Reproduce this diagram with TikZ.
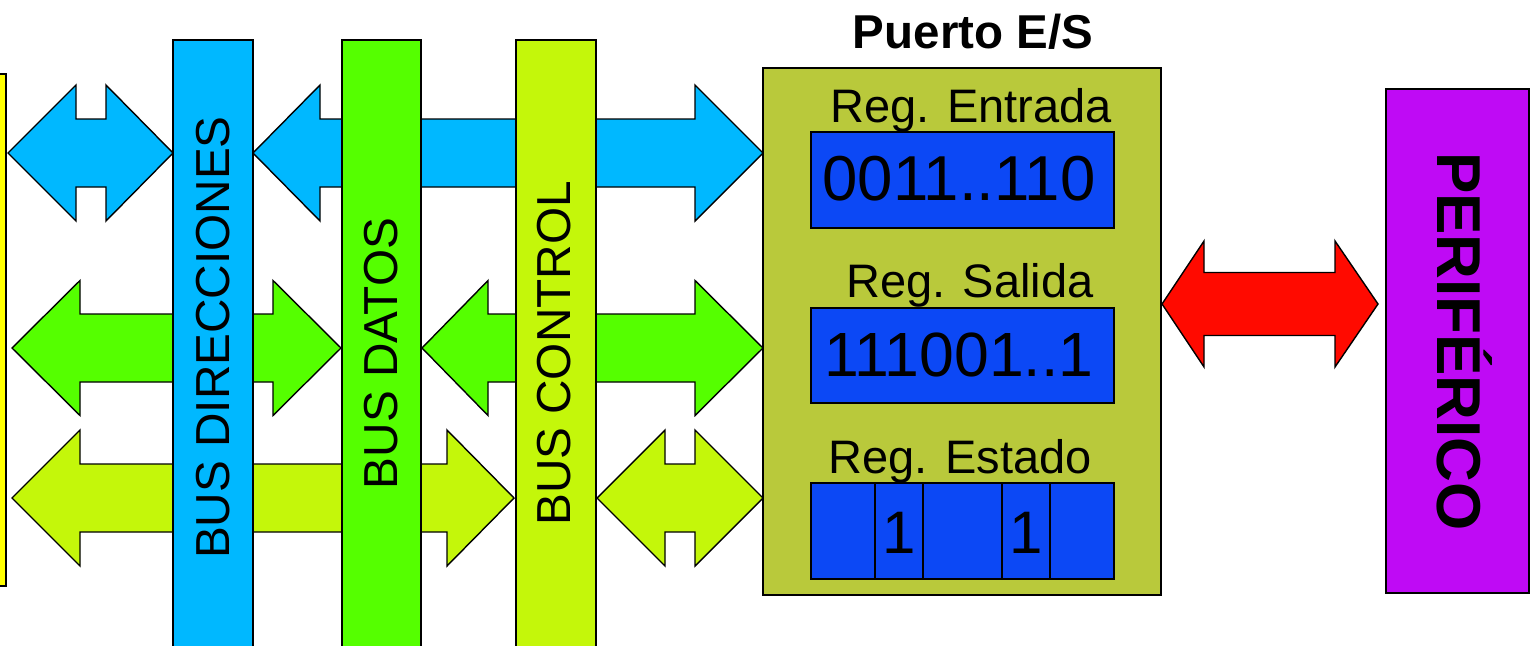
\documentclass[tikz,border=0pt]{standalone}
\usepackage{fontspec}
\setmainfont{Liberation Sans}
\definecolor{cpuyellow}{HTML}{FFFF00}
\definecolor{busblue}{HTML}{00B8FF}
\definecolor{busgreen}{HTML}{55FF00}
\definecolor{buslime}{HTML}{C4F70A}
\definecolor{portolive}{HTML}{B9C93B}
\definecolor{regblue}{HTML}{0C48F5}
\definecolor{arrred}{HTML}{FF0A00}
\definecolor{perpurple}{HTML}{BF0AF5}
% #1 colour, #2 left tip x, #3 right tip x, #4 centre y, #5 head half width, #6 shaft half width, #7 left head length, #8 right head length
\newcommand\dblarrow[8]{%
  \draw[fill=#1, outline]
    (#2,#4) -- (#2+#7,#4-#5) -- (#2+#7,#4-#6) -- (#3-#8,#4-#6) -- (#3-#8,#4-#5)
    -- (#3,#4) -- (#3-#8,#4+#5) -- (#3-#8,#4+#6) -- (#2+#7,#4+#6) -- (#2+#7,#4+#5) -- cycle;}
\begin{document}
\begin{tikzpicture}[x=1pt,y=-1pt,
  outline/.style={draw=black, line width=1.4pt, line join=miter},
  bustext/.style={rotate=90, anchor=base, inner sep=0pt, font=\fontsize{47.7}{52}\selectfont},
  regtitle/.style={anchor=base, inner sep=0pt, font=\fontsize{47}{52}\selectfont},
  regvalue/.style={anchor=base, inner sep=0pt, font=\fontsize{62.5}{66}\selectfont},
  bitvalue/.style={anchor=base, inner sep=0pt, font=\fontsize{60}{64}\selectfont}]
\useasboundingbox (0,0) rectangle (1530,645);

% CPU block (left, partly outside)
\draw[fill=cpuyellow, outline] (-20,74) rectangle (6,586);

% block arrows (behind the buses)
\dblarrow{busblue}{8}{173}{153}{68}{34}{68}{67}
\dblarrow{busblue}{253}{763}{153}{68}{34}{67}{68}
\dblarrow{busgreen}{12}{341}{348}{67.5}{34}{68}{68}
\dblarrow{busgreen}{422}{763}{348}{67.5}{34}{66}{68}
\dblarrow{buslime}{12}{514}{498}{68}{34}{68}{67}
\dblarrow{buslime}{597}{763}{498}{68}{34}{68}{68}
\dblarrow{arrred}{1162}{1378}{304}{63}{31.5}{42}{43}

% buses
\draw[fill=busblue, outline] (173,40) rectangle (253,665);
\node[bustext] (dir) at (229,337.5) {BUS DIRECCIONES};
\draw[fill=busgreen, outline] (342,40) rectangle (421,665);
\node[bustext] (dat) at (397,353.5) {BUS DATOS};
\draw[fill=buslime, outline] (516,40) rectangle (596,665);
\node[bustext] (ctl) at (570,353.5) {BUS CONTROL};

% I/O port
\node[anchor=base, inner sep=0pt, font=\fontsize{47.5}{52}\selectfont\bfseries] (port) at (973,48) {Puerto E/S};
\draw[fill=portolive, outline] (763,68) rectangle (1161,595);

\node[regtitle] (tin) at (971,122) {Reg. Entrada};
\draw[fill=regblue, outline] (811,132) rectangle (1114,228);
\node[regvalue, font=\fontsize{63.5}{66}\selectfont] (vin) at (959,200) {0011..110};

\node[regtitle] (tout) at (970,297) {Reg. Salida};
\draw[fill=regblue, outline] (811,308) rectangle (1114,403);
\node[regvalue] (vout) at (959,376) {111001..1};

\node[regtitle] (tst) at (960,473) {Reg. Estado};
\draw[fill=regblue, outline] (811,483) rectangle (1114,579);
\foreach \xx in {875,923,1002,1050} \draw[outline] (\xx,483) -- (\xx,579);
\node[bitvalue] (b1) at (899,553) {1};
\node[bitvalue] (b2) at (1026,553) {1};

% peripheral
\draw[fill=perpurple, outline] (1386,89) rectangle (1529,593);
\node[rotate=-90, anchor=base, inner sep=0pt, font=\fontsize{62}{66}\selectfont\bfseries] (per) at (1437,341.5) {PERIFÉRICO};
\end{tikzpicture}
\end{document}
